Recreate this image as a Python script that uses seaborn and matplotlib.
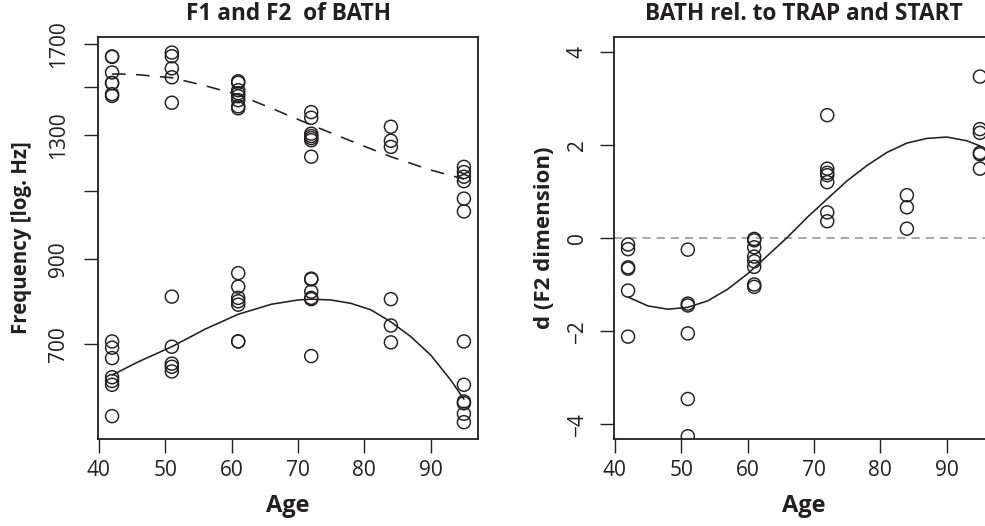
import numpy as np
import pandas as pd
import matplotlib
matplotlib.use("Agg")
import matplotlib.pyplot as plt
from matplotlib.ticker import FixedLocator, FixedFormatter, NullLocator
import seaborn as sns

# ---------------- data ----------------
# Left panel: F2 (upper cloud) and F1 (lower cloud), Hz
f2_age = [42, 42, 42, 42, 42, 42, 42,
          51, 51, 51, 51, 51,
          61, 61, 61, 61, 61, 61, 61, 61,
          72, 72, 72, 72, 72, 72, 72,
          84, 84, 84,
          95, 95, 95, 95, 95, 95]
f2_hz = [1640, 1638, 1564, 1516, 1516, 1467, 1459,
         1659, 1641, 1583, 1542, 1430,
         1524, 1517, 1484, 1471, 1458, 1441, 1415, 1407,
         1391, 1368, 1305, 1296, 1288, 1280, 1219,
         1332, 1278, 1255,
         1183, 1165, 1149, 1134, 1077, 1037]

f1_age = [42, 42, 42, 42, 42, 42, 42,
          51, 51, 51, 51, 51,
          61, 61, 61, 61, 61, 61, 61,
          72, 72, 72, 72, 72, 72,
          84, 84, 84,
          95, 95, 95, 95, 95, 95]
f1_hz = [706, 693, 672, 635, 628, 621, 566,
         806, 695, 661, 655, 646,
         864, 830, 803, 795, 787, 706, 706,
         850, 848, 818, 803, 800, 676,
         800, 740, 704,
         706, 621, 591, 588, 570, 556]

# fitted curves
f2_fit_age = [42, 45, 51, 56, 61, 66, 72, 78, 84, 90, 95]
f2_fit_hz = [1557, 1556, 1540, 1504, 1464, 1407, 1339, 1277, 1219, 1172, 1141]

f1_fit_age = [42, 46, 51, 56, 61, 66, 70, 72, 75, 78, 81, 84, 87, 90, 93, 95]
f1_fit_hz = [639, 665, 695, 732, 765, 788, 798, 800, 798, 790, 775, 748, 716, 678, 630, 595]

# Right panel: d (F2 dimension)
d_age = [42, 42, 42, 42, 42, 42,
         51, 51, 51, 51, 51, 51,
         61, 61, 61, 61, 61, 61, 61, 61,
         72, 72, 72, 72, 72, 72, 72,
         84, 84, 84,
         95, 95, 95, 95, 95, 95]
d_val = [-0.14, -0.24, -0.63, -0.66, -1.13, -2.12,
         -0.25, -1.41, -1.45, -2.05, -3.46, -4.26,
         -0.02, -0.05, -0.20, -0.40, -0.50, -0.62, -1.00, -1.05,
         2.64, 1.49, 1.40, 1.35, 1.20, 0.55, 0.36,
         0.92, 0.66, 0.20,
         3.47, 2.34, 2.26, 1.83, 1.80, 1.49]

d_fit_age = [42, 45, 48, 51, 54, 57, 60, 63, 66, 69, 72, 75, 78, 81, 84, 87, 90, 93, 95]
d_fit_val = [-1.27, -1.46, -1.53, -1.49, -1.35, -1.10, -0.77, -0.38, 0.015, 0.445,
             0.84, 1.23, 1.56, 1.84, 2.04, 2.14, 2.17, 2.09, 1.98]

x_ticks = [40, 50, 60, 70, 80, 90]
left_y_ticks = [700, 900, 1100, 1300, 1500, 1700]
left_y_labels = ["700", "900", "", "1300", "", "1700"]
right_y_ticks = [-4, -2, 0, 2, 4]
right_y_labels = ["\u22124", "\u22122", "0", "2", "4"]

title_left = "F1 and F2  of BATH"
title_right = "BATH rel. to TRAP and START"

# ---------------- style ----------------
sns.set_theme(style="ticks")
plt.rcParams["font.family"] = ["Open Sans", "DejaVu Sans"]
INK = "#231f20"

fig = plt.figure(figsize=(9.85, 5.26), dpi=100)
W, H = 985.0, 526.0
ax1 = fig.add_axes([98 / W, (H - 439) / H, 380 / W, 402 / H])
ax2 = fig.add_axes([614 / W, (H - 439) / H, 380 / W, 402 / H])

df_f2 = pd.DataFrame({"age": f2_age, "hz": f2_hz})
df_f1 = pd.DataFrame({"age": f1_age, "hz": f1_hz})
df_d = pd.DataFrame({"age": d_age, "d": d_val})

sc_kw = dict(marker="o", s=88, facecolor="none", edgecolor=INK, linewidth=1.05,
             legend=False, zorder=3)

# ---- left panel ----
ax1.set_yscale("log")
sns.scatterplot(data=df_f2, x="age", y="hz", ax=ax1, **sc_kw)
sns.scatterplot(data=df_f1, x="age", y="hz", ax=ax1, **sc_kw)
sns.lineplot(x=f2_fit_age, y=f2_fit_hz, ax=ax1, color=INK, lw=1.15,
             linestyle=(0, (8.5, 6.5)), estimator=None, sort=False)
sns.lineplot(x=f1_fit_age, y=f1_fit_hz, ax=ax1, color=INK, lw=1.15,
             estimator=None, sort=False)
ax1.set_xlim(39.88, 97.12)
ax1.set_ylim(529, 1737)
ax1.yaxis.set_major_locator(FixedLocator(left_y_ticks))
ax1.yaxis.set_major_formatter(FixedFormatter(left_y_labels))
ax1.yaxis.set_minor_locator(NullLocator())

# ---- right panel ----
ax2.axhline(0, color="#9a9a9a", lw=1.2, ls=(0, (5, 3.5)), zorder=1)
sns.scatterplot(data=df_d, x="age", y="d", ax=ax2, **sc_kw)
sns.lineplot(x=d_fit_age, y=d_fit_val, ax=ax2, color=INK, lw=1.15,
             estimator=None, sort=False)
ax2.set_xlim(39.88, 97.12)
ax2.set_ylim(-4.32, 4.32)
ax2.yaxis.set_major_locator(FixedLocator(right_y_ticks))
ax2.yaxis.set_major_formatter(FixedFormatter(right_y_labels))

for ax, ypad in ((ax1, 11), (ax2, 9)):
    ax.xaxis.set_major_locator(FixedLocator(x_ticks))
    ax.xaxis.set_minor_locator(NullLocator())
    for sp in ax.spines.values():
        sp.set_visible(True)
        sp.set_linewidth(1.3)
        sp.set_color(INK)
    ax.tick_params(axis="both", direction="out", length=10, width=1.0,
                   color=INK, labelcolor=INK, labelsize=15)
    ax.tick_params(axis="x", pad=5)
    ax.tick_params(axis="y", pad=ypad, labelrotation=90)
    for lbl in ax.get_yticklabels():
        lbl.set_va("center")
    ax.grid(False)

ax1.set_title(title_left, fontsize=16.3, fontweight="bold", color=INK,
              y=1.037, va="center")
ax2.set_title(title_right, fontsize=16.3, fontweight="bold", color=INK,
              y=1.037, va="center")

ax1.set_xlabel("Age", fontsize=17, fontweight="bold", color=INK, va="center")
ax2.set_xlabel("Age", fontsize=17, fontweight="bold", color=INK, va="center")
ax1.xaxis.set_label_coords(0.5, -0.167)
ax2.xaxis.set_label_coords(0.5, -0.167)

ax1.set_ylabel("Frequency [log. Hz]", fontsize=14.8, fontweight="bold", color=INK, va="center")
ax2.set_ylabel("d (F2 dimension)", fontsize=16, fontweight="bold", color=INK, va="center")
ax1.yaxis.set_label_coords(-0.2, 0.5)
ax2.yaxis.set_label_coords(-0.1816, 0.5)

fig.savefig("out.png", dpi=100)
